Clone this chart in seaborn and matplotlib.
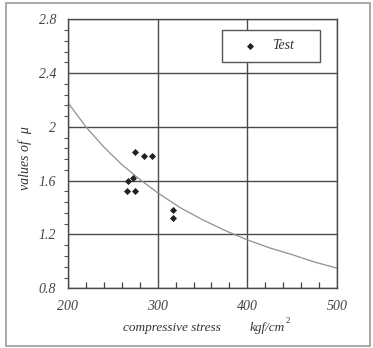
import matplotlib
matplotlib.use("Agg")
import matplotlib.pyplot as plt
import seaborn as sns
import pandas as pd
from matplotlib.patches import Rectangle
from matplotlib.ticker import MultipleLocator

# Test data (compressive stress, mu)
test_stress = [275, 285, 294, 267, 272, 266, 275, 317, 317]
test_mu = [1.81, 1.78, 1.78, 1.60, 1.62, 1.52, 1.52, 1.38, 1.32]

# Curve
curve_stress = [200, 220, 240, 260, 280, 300, 325, 350, 375, 400, 425, 450, 475, 500]
curve_mu = [2.18, 2.00, 1.85, 1.72, 1.61, 1.51, 1.40, 1.31, 1.23, 1.16, 1.10, 1.05, 0.995, 0.95]

x_ticks = [200, 300, 400, 500]
y_ticks = [0.8, 1.2, 1.6, 2.0, 2.4, 2.8]
y_tick_labels = ["0.8", "1.2", "1.6", "2", "2.4", "2.8"]

sns.set_style("white")
plt.rcParams["font.family"] = ["Liberation Serif", "DejaVu Serif"]

fig = plt.figure(figsize=(3.73, 3.48), dpi=100)
ax = fig.add_axes([0.1823, 0.1716, 0.7212, 0.7729])

# outer frame
fig.patches.append(Rectangle((0.016, 0.006), 0.976, 0.986, transform=fig.transFigure,
                             fill=False, edgecolor="#9a9a9a", linewidth=1.2))

curve_df = pd.DataFrame({"stress": curve_stress, "mu": curve_mu})
test_df = pd.DataFrame({"stress": test_stress, "mu": test_mu})

sns.lineplot(data=curve_df, x="stress", y="mu", ax=ax, color="#909090", linewidth=0.9,
             sort=True, legend=False)
sns.scatterplot(data=test_df, x="stress", y="mu", ax=ax, color="#222222", marker="D",
                s=9, edgecolor="#222222", linewidth=0.6, label="Test", zorder=5)

ax.set_xlim(200, 500)
ax.set_ylim(0.8, 2.8)
ax.set_xticks(x_ticks)
ax.set_yticks(y_ticks)
ax.set_yticklabels(y_tick_labels)
ax.xaxis.set_minor_locator(MultipleLocator(20))
ax.yaxis.set_minor_locator(MultipleLocator(0.08))
ax.grid(True, which="major", color="#4a4a4a", linewidth=1.0)
ax.set_axisbelow(True)

for side in ["top", "right", "left", "bottom"]:
    ax.spines[side].set_visible(True)
    ax.spines[side].set_color("#4a4a4a")
    ax.spines[side].set_linewidth(1.0)

ax.tick_params(axis="both", which="major", length=5, width=0.9, color="#444444",
               labelsize=10, labelcolor="#444444", direction="out",
               top=False, right=False)
ax.tick_params(axis="x", which="minor", length=4, width=0.9, color="#444444",
               direction="in", bottom=True, top=False)
ax.tick_params(axis="y", which="minor", length=3, width=0.8, color="#555555",
               direction="out", left=True, right=False)
for lab in ax.get_xticklabels() + ax.get_yticklabels():
    lab.set_fontstyle("italic")

ax.set_xlabel("")
ax.set_ylabel("")
fig.text(0.462, 0.057, "compressive stress", fontsize=9.5, fontstyle="italic",
         ha="center", va="center", color="#333333")
fig.text(0.668, 0.057, "kgf/cm", fontsize=9.5, fontstyle="italic",
         ha="left", va="center", color="#333333")
fig.text(0.765, 0.077, "2", fontsize=6.5, ha="left", va="center", color="#333333")
fig.text(0.068, 0.545, "values of  \u03bc", fontsize=10, fontstyle="italic",
         rotation=90, ha="center", va="center", color="#333333")

leg = ax.legend(loc="upper left", bbox_to_anchor=(0.573, 0.962, 0.365, 0.0), mode="expand",
                frameon=True, fancybox=False, edgecolor="#555555", framealpha=1,
                borderpad=0.7, borderaxespad=0.0, handletextpad=0.3, handlelength=2.6,
                prop={"style": "italic", "size": 10})
leg.get_frame().set_linewidth(1.0)
for t in leg.get_texts():
    t.set_color("#333333")

fig.savefig("out.png", dpi=100)
